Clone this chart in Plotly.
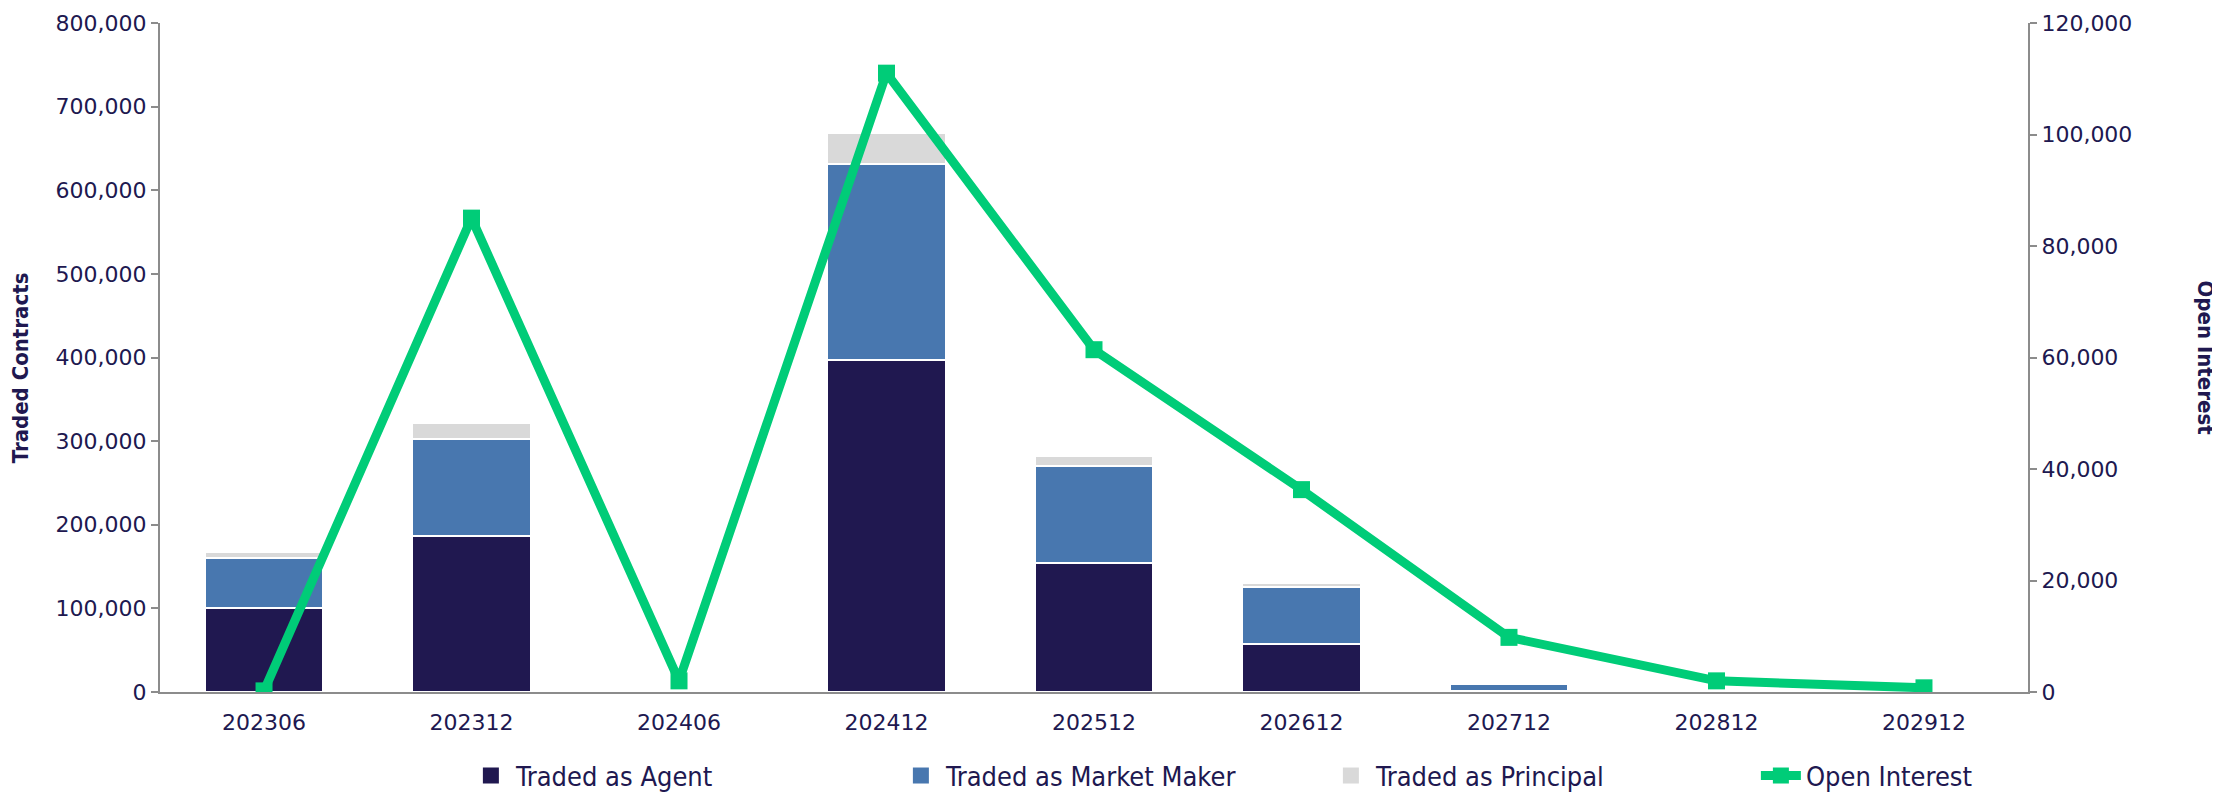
import plotly.graph_objects as go

# contract months
months = ["202306", "202312", "202406", "202412", "202512", "202612", "202712", "202812", "202912"]

# traded contracts by capacity
agent = [100000, 187000, 500, 397000, 154000, 58000, 1000, 300, 200]
market_maker = [60000, 115000, 1500, 234000, 116000, 67000, 9000, 500, 300]
principal = [7000, 20000, 2500, 37000, 12000, 5000, 1000, 1500, 1000]

# open interest (right axis)
open_interest = [200, 85000, 2000, 111000, 61400, 36300, 9800, 2000, 750]

NAVY = "#201850"
BLUE = "#4877AF"
GREY = "#D9D9D9"
GREEN = "#00CC78"
AXIS = "#8C8C8C"

tick_font = dict(family="DejaVu Sans, Arial", size=22, color=NAVY)
narrow = "Liberation Sans Narrow, Arial Narrow, DejaVu Sans Condensed, sans-serif"

fig = go.Figure()
bar_line = dict(color="white", width=2)
bar_series = [("Traded as Agent", agent, NAVY),
              ("Traded as Market Maker", market_maker, BLUE),
              ("Traded as Principal", principal, GREY)]
for name, vals, col in bar_series:
    fig.add_trace(go.Bar(x=months, y=vals, name=name, showlegend=False,
                         marker=dict(color=col, line=bar_line)))

fig.add_trace(go.Scatter(x=months, y=open_interest, name="Open Interest", yaxis="y2",
                         mode="lines+markers", showlegend=False,
                         line=dict(color=GREEN, width=9),
                         marker=dict(symbol="square", size=17, color=GREEN)))

# legend-only entries so the swatches are bigger
for name, vals, col in bar_series:
    fig.add_trace(go.Scatter(x=[None], y=[None], name=name, mode="markers",
                             marker=dict(symbol="square", size=22, color=col)))
fig.add_trace(go.Scatter(x=[None], y=[None], name="Open Interest", mode="lines+markers",
                         line=dict(color=GREEN, width=9),
                         marker=dict(symbol="square", size=17, color=GREEN)))

# page body has an 8px margin, so the figure is 8px smaller each way
fig.update_layout(
    width=2212, height=785,
    barmode="stack", bargap=0.43,
    plot_bgcolor="white", paper_bgcolor="white",
    margin=dict(l=152, r=192, t=15, b=101),
    showlegend=True,
    legend=dict(orientation="h", xref="container", yref="container",
                x=0.207, xanchor="left", y=0.0217, yanchor="middle",
                font=dict(family=narrow, size=27, color=NAVY),
                entrywidth=375, entrywidthmode="pixels", itemwidth=40,
                traceorder="normal"),
    xaxis=dict(showline=True, linecolor=AXIS, linewidth=2,
               ticks="outside", ticklen=10, tickcolor="rgba(0,0,0,0)",
               tickfont=tick_font, showgrid=False),
    yaxis=dict(range=[0, 800000], dtick=100000, tickformat=",", automargin=False,
               ticklabeloverflow="allow",
               showline=True, linecolor=AXIS, linewidth=2,
               ticks="outside", ticklen=7, tickcolor=AXIS, tickwidth=2,
               tickfont=tick_font, showgrid=False, zeroline=False),
    yaxis2=dict(range=[0, 120000], dtick=20000, tickformat=",", overlaying="y", side="right",
                automargin=False, ticklabeloverflow="allow",
                showline=True, linecolor=AXIS, linewidth=2,
                ticks="outside", ticklen=7, tickcolor=AXIS, tickwidth=2,
                tickfont=tick_font, showgrid=False, zeroline=False),
    annotations=[
        dict(text="<b>Traded Contracts</b>", textangle=-90, xref="paper", yref="paper",
             x=0, xshift=-140, y=0.484, xanchor="center", yanchor="middle", showarrow=False,
             font=dict(family=narrow, size=22, color=NAVY)),
        dict(text="<b>Open Interest</b>", textangle=90, xref="paper", yref="paper",
             x=1, xshift=177, y=0.5, xanchor="center", yanchor="middle", showarrow=False,
             font=dict(family=narrow, size=22, color=NAVY)),
    ],
)

fig.write_html("out.html")
